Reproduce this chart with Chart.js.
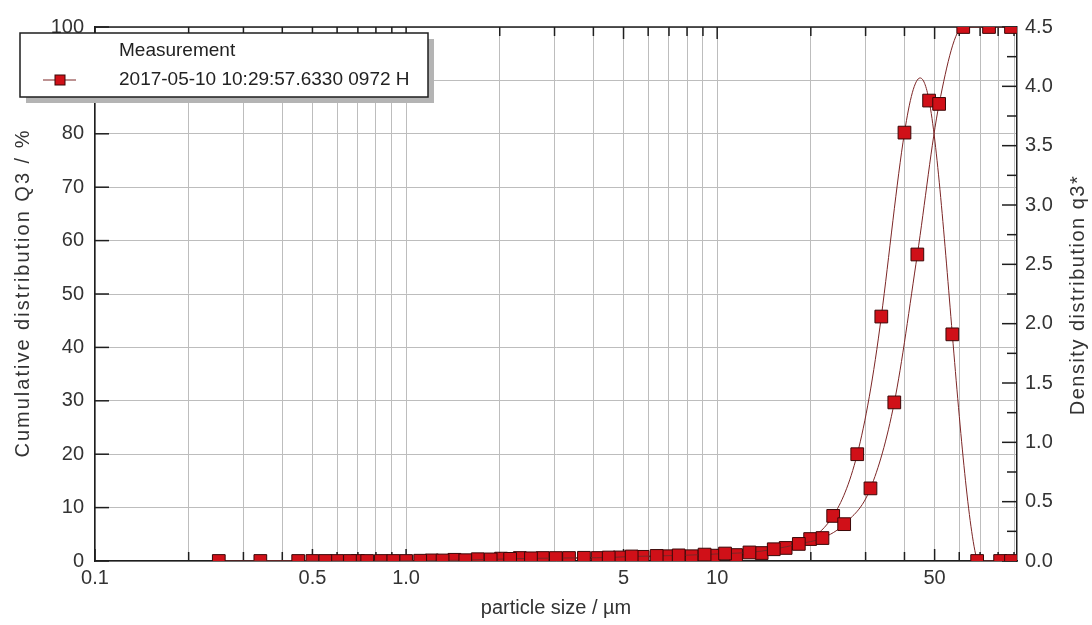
<!DOCTYPE html>
<html>
<head>
<meta charset="utf-8">
<script src="https://cdn.jsdelivr.net/npm/chart.js@4.4.1/dist/chart.umd.min.js"></script>
<style>
  html, body { margin: 0; padding: 0; background: #fff; }
  #wrap { width: 1092px; height: 625px; }
</style>
</head>
<body>
<div id="wrap"><canvas id="psdChart" width="1092" height="625"></canvas></div>
<script>
// cumulative distribution Q3 (%), plotted at the upper class limits (µm)
const cumSizes = [0.25, 0.45, 0.55, 0.66, 0.75, 0.91, 1.11, 1.31, 1.55, 1.87, 2.16, 2.52, 3.03, 3.73, 4.48,
  5.31, 6.39, 7.52, 9.11, 10.6, 12.7, 15.2, 18.3, 21.8, 25.6, 31.1, 37.1, 44.0, 51.7, 61.8, 74.8, 88];
const cumValues = [0, 0, 0, 0, 0, 0, 0.05, 0.1, 0.15, 0.3, 0.4, 0.5, 0.55, 0.6, 0.65,
  0.85, 0.95, 1.05, 1.2, 1.4, 1.6, 2.2, 3.2, 4.3, 6.9, 13.6, 29.7, 57.4, 85.6, 100, 100, 100];

// density distribution q3*, plotted at the class centres (µm)
const densSizes = [0.34, 0.50, 0.60, 0.70, 0.83, 1.0, 1.21, 1.43, 1.70, 2.02, 2.32, 2.75, 3.34, 4.13, 4.86,
  5.76, 6.88, 8.28, 9.74, 11.5, 13.9, 16.6, 19.9, 23.6, 28.2, 33.7, 40.0, 48.0, 57.0, 68.5, 81.2, 88];
const densValues = [0, 0, 0, 0, 0, 0, 0.005, 0.01, 0.015, 0.02, 0.025, 0.025, 0.025, 0.025, 0.03,
  0.035, 0.04, 0.04, 0.045, 0.05, 0.067, 0.11, 0.185, 0.38, 0.90, 2.06, 3.61, 3.88, 1.91, 0, 0, 0];

// x grid / ticks on the log axis and the ones that get a label
const xGridValues = [0.1, 0.2, 0.3, 0.4, 0.5, 0.6, 0.7, 0.8, 0.9,
  1, 2, 3, 4, 5, 6, 7, 8, 9, 10, 20, 30, 40, 50, 60, 70, 80, 90];
const xLabelValues = [0.1, 0.5, 1, 5, 10, 50];
const xLabelTexts = ['0.1', '0.5', '1.0', '5', '10', '50'];

const legendTitle = 'Measurement';
const legendLabel = '2017-05-10 10:29:57.6330 0972 H';

const lineColor = '#7c2626';
const pointFill = '#d01018';
const pointEdge = '#3a0808';
const gridColor = '#bdbdbd';
const axisColor = '#1e1e1e';
const textColor = '#333';

Chart.defaults.font.family = "'Liberation Sans', Arial, sans-serif";
Chart.defaults.font.size = 20;
Chart.defaults.color = textColor;

// natural cubic spline through the drawn points (like the instrument software does)
function naturalSplineControlPoints(points, area) {
  const n = points.length;
  if (n < 3) return;
  const h = [], M = new Array(n).fill(0);
  for (let i = 0; i < n - 1; i++) h.push(Math.max(points[i + 1].x - points[i].x, 1e-6));
  // tridiagonal solve for second derivatives
  const a = [], b = [], c = [], d = [];
  for (let i = 1; i < n - 1; i++) {
    a.push(h[i - 1]);
    b.push(2 * (h[i - 1] + h[i]));
    c.push(h[i]);
    d.push(6 * ((points[i + 1].y - points[i].y) / h[i] - (points[i].y - points[i - 1].y) / h[i - 1]));
  }
  const m = b.length;
  for (let i = 1; i < m; i++) {
    const w = a[i] / b[i - 1];
    b[i] -= w * c[i - 1];
    d[i] -= w * d[i - 1];
  }
  for (let i = m - 1; i >= 0; i--) {
    M[i + 1] = (d[i] - (i < m - 1 ? c[i] * M[i + 2] : 0)) / b[i];
  }
  const slope = [];
  for (let i = 0; i < n - 1; i++) {
    slope.push((points[i + 1].y - points[i].y) / h[i] - h[i] * (2 * M[i] + M[i + 1]) / 6);
  }
  slope.push((points[n - 1].y - points[n - 2].y) / h[n - 2] + h[n - 2] * (M[n - 2] + 2 * M[n - 1]) / 6);
  const clampY = y => Math.min(Math.max(y, area.top), area.bottom);
  for (let i = 0; i < n - 1; i++) {
    const p = points[i], q = points[i + 1];
    p.cp2x = p.x + h[i] / 3;
    p.cp2y = clampY(p.y + slope[i] * h[i] / 3);
    q.cp1x = q.x - h[i] / 3;
    q.cp1y = clampY(q.y - slope[i + 1] * h[i] / 3);
  }
}

// inward tick marks, top frame line, legend box and the y axis titles
const plotDecor = {
  id: 'plotDecor',
  beforeDatasetDraw(chart, args) {
    if (args.index !== 1) return;
    const meta = args.meta;
    meta.dataset.updateControlPoints(chart.chartArea, 'x');
    naturalSplineControlPoints(meta.data, chart.chartArea);
  },
  beforeDatasetsDraw(chart) {
    const { ctx, chartArea: a, scales } = chart;
    ctx.save();
    ctx.strokeStyle = axisColor;
    ctx.lineWidth = 1.5;
    const seg = (x1, y1, x2, y2) => {
      ctx.beginPath(); ctx.moveTo(x1, y1); ctx.lineTo(x2, y2); ctx.stroke();
    };
    scales.y.ticks.forEach(t => {
      const py = scales.y.getPixelForValue(t.value);
      seg(a.left, py, a.left + (t.value % 10 === 0 ? 14 : 10), py);
    });
    scales.y1.ticks.forEach(t => {
      const py = scales.y1.getPixelForValue(t.value);
      const major = Math.abs(t.value * 2 - Math.round(t.value * 2)) < 1e-6;
      seg(a.right - (major ? 15 : 10), py, a.right, py);
    });
    scales.x.ticks.forEach(t => {
      const px = scales.x.getPixelForValue(t.value);
      const len = xLabelValues.indexOf(t.value) >= 0 ? 12 : 9;
      seg(px, a.bottom, px, a.bottom - len);
      seg(px, a.top, px, a.top + len);
    });
    seg(a.left, a.top, a.right, a.top);
    ctx.restore();
  },
  afterDraw(chart) {
    const { ctx } = chart;
    ctx.save();
    // legend box with shadow
    ctx.fillStyle = '#b4b4b4';
    ctx.fillRect(26, 39, 408, 64);
    ctx.fillStyle = '#fff';
    ctx.fillRect(20, 33, 408, 64);
    ctx.strokeStyle = axisColor;
    ctx.lineWidth = 1.5;
    ctx.strokeRect(20, 33, 408, 64);
    ctx.fillStyle = '#222';
    ctx.font = "19px 'Liberation Sans', Arial, sans-serif";
    ctx.textBaseline = 'middle';
    ctx.textAlign = 'left';
    ctx.fillText(legendTitle, 119, 51);
    ctx.fillText(legendLabel, 119, 80);
    ctx.strokeStyle = lineColor;
    ctx.lineWidth = 1;
    ctx.beginPath(); ctx.moveTo(43, 80); ctx.lineTo(76, 80); ctx.stroke();
    ctx.fillStyle = pointFill;
    ctx.fillRect(55, 75, 10, 10);
    ctx.strokeStyle = pointEdge;
    ctx.strokeRect(55, 75, 10, 10);

    // rotated y axis titles
    ctx.fillStyle = textColor;
    ctx.font = "20px 'Liberation Sans', Arial, sans-serif";
    ctx.textAlign = 'center';
    ctx.letterSpacing = '2px';
    ctx.save();
    ctx.translate(23, 293);
    ctx.rotate(-Math.PI / 2);
    ctx.fillText('Cumulative distribution Q3 / %', 0, 0);
    ctx.restore();
    ctx.letterSpacing = '1.5px';
    ctx.save();
    ctx.translate(1078, 295);
    ctx.rotate(-Math.PI / 2);
    ctx.fillText('Density distribution q3*', 0, 0);
    ctx.restore();
    ctx.letterSpacing = '0px';
    ctx.restore();
  }
};

const ctx = document.getElementById('psdChart');

new Chart(ctx, {
  type: 'line',
  data: {
    datasets: [{
      label: 'Q3',
      data: cumSizes.map((s, i) => ({ x: s, y: cumValues[i] })),
      yAxisID: 'y',
      borderColor: lineColor,
      borderWidth: 1,
      tension: 0.4,
      cubicInterpolationMode: 'monotone',
      pointStyle: 'rect',
      pointRadius: 9,
      pointBackgroundColor: pointFill,
      pointBorderColor: pointEdge,
      pointBorderWidth: 1
    }, {
      label: 'q3*',
      data: densSizes.map((s, i) => ({ x: s, y: densValues[i] })),
      yAxisID: 'y1',
      borderColor: lineColor,
      borderWidth: 1,
      tension: 0.4,
      pointStyle: 'rect',
      pointRadius: 9,
      pointBackgroundColor: pointFill,
      pointBorderColor: pointEdge,
      pointBorderWidth: 1
    }]
  },
  options: {
    responsive: false,
    animation: false,
    devicePixelRatio: 1,
    layout: { padding: { top: 27, left: 0, right: 0, bottom: 0 } },
    plugins: {
      legend: { display: false },
      tooltip: { enabled: false }
    },
    scales: {
      x: {
        type: 'logarithmic',
        position: 'bottom',
        min: 0.1,
        max: 92,
        afterBuildTicks: scale => {
          scale.ticks = xGridValues.map(v => ({ value: v }));
        },
        afterFit: scale => { scale.height = 64; },
        ticks: {
          autoSkip: false,
          maxRotation: 0,
          padding: 5,
          callback: value => {
            const i = xLabelValues.indexOf(value);
            return i >= 0 ? xLabelTexts[i] : '';
          }
        },
        grid: { color: gridColor, drawTicks: false },
        border: { color: axisColor, width: 1.5 },
        title: {
          display: true,
          text: 'particle size / µm',
          padding: { top: 0, bottom: 5 }
        }
      },
      y: {
        type: 'linear',
        position: 'left',
        min: 0,
        max: 100,
        afterFit: scale => { scale.width = 95; },
        ticks: {
          stepSize: 5,
          padding: 11,
          callback: value => (value % 10 === 0 ? String(value) : '')
        },
        grid: { color: gridColor, drawTicks: false },
        border: { color: axisColor, width: 1.5 }
      },
      y1: {
        type: 'linear',
        position: 'right',
        min: 0,
        max: 4.5,
        afterFit: scale => { scale.width = 75; },
        ticks: {
          stepSize: 0.25,
          padding: 8,
          callback: value => (Math.abs(value * 2 - Math.round(value * 2)) < 1e-6 ? value.toFixed(1) : '')
        },
        grid: { drawOnChartArea: false, drawTicks: false },
        border: { color: axisColor, width: 1.5 }
      }
    }
  },
  plugins: [plotDecor]
});
</script>
</body>
</html>
